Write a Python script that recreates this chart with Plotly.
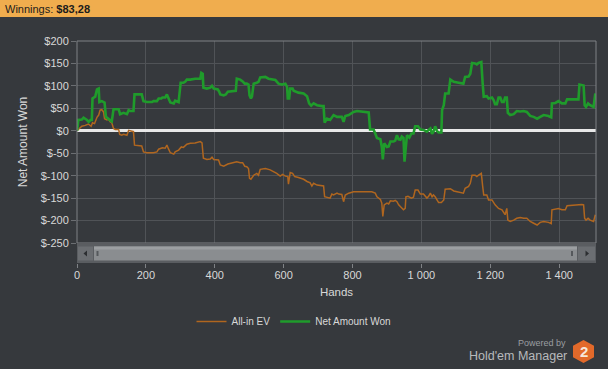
import plotly.graph_objects as go

# ---------------- data ----------------
won_hands = [0, 4, 14, 19, 29, 34, 39, 43, 45, 53, 58, 63, 65, 72, 80, 84, 92, 101, 106, 121, 125, 135, 145, 150, 155, 164,
             167, 174, 188, 193, 203, 218, 222, 232, 237, 245, 248, 256, 261, 266, 271, 281, 285, 295, 301, 309, 314, 319,
             329, 343, 358, 361, 365, 367, 377, 387, 392, 397, 409, 413, 416, 426, 432, 438, 450, 461, 464, 474, 481, 487,
             493, 498, 501, 505, 508, 513, 522, 527, 532, 547, 556, 566, 576, 585, 595, 605, 610, 612, 616, 619, 626, 629,
             643, 658, 663, 668, 674, 680, 687, 697, 711, 716, 719, 726, 735, 745, 755, 760, 769, 774, 779, 789, 803, 813,
             827, 847, 851, 861, 866, 871, 881, 885, 888, 892, 900, 905, 910, 919, 924, 929, 934, 939, 943, 948, 951, 958,
             965, 971, 977, 982, 990, 997, 1006, 1016, 1021, 1026, 1031, 1035, 1040, 1045, 1050, 1058, 1060, 1065, 1069,
             1079, 1084, 1094, 1108, 1122, 1127, 1137, 1142, 1147, 1156, 1161, 1166, 1174, 1178, 1181, 1190, 1195, 1205,
             1210, 1214, 1219, 1224, 1229, 1234, 1239, 1243, 1248, 1251, 1258, 1268, 1277, 1287, 1297, 1306, 1316, 1326,
             1336, 1345, 1355, 1369, 1377, 1379, 1389, 1398, 1408, 1418, 1423, 1437, 1456, 1459, 1471, 1474, 1478, 1484,
             1490, 1500, 1505]
won_values = [0, 24, 25, 29, 24, 20, 24, 24, 72, 76, 92, 94, 64, 66, 63, 31, 26, 21, 48, 48, 37, 40, 37, 46, 44, 44,
              81, 81, 81, 66, 64, 64, 66, 66, 72, 72, 74, 74, 81, 72, 63, 61, 67, 64, 107, 107, 109, 114,
              114, 116, 116, 129, 127, 96, 94, 96, 100, 94, 92, 87, 81, 79, 81, 87, 88, 89, 116, 114, 110, 105,
              105, 103, 79, 72, 76, 105, 107, 109, 119, 120, 116, 114, 113, 105, 103, 105, 98, 72, 72, 94, 94, 89,
              85, 83, 80, 77, 61, 56, 61, 57, 55, 55, 18, 27, 24, 35, 31, 31, 31, 20, 33, 35, 42, 44,
              43, 41, 3, 3, -6, -16, -19, -36, -64, -28, -36, -35, -24, -24, -22, -10, -19, -20, -13, -16, -69, -10,
              -15, -6, -6, 10, 10, 3, 2, -2, 2, 5, -7, -2, 10, 0, -4, -4, 46, 57, 83,
              83, 114, 109, 107, 105, 120, 121, 127, 151, 150, 148, 151, 153, 105, 76, 77, 72, 74,
              68, 59, 59, 74, 74, 64, 64, 74, 74, 40, 35, 37, 44, 43, 44, 42, 33, 31,
              27, 31, 35, 33, 30, 61, 62, 66, 61, 61, 70, 70, 70, 103, 101, 57, 53, 61,
              57, 53, 83.28]

ev_hands = [0, 4, 14, 24, 33, 41, 45, 51, 55, 58, 63, 67, 72, 77, 80, 87, 92, 96, 101, 106, 111, 121, 124, 130, 135, 145,
            150, 160, 164, 167, 179, 188, 193, 203, 222, 232, 237, 245, 248, 256, 261, 266, 271, 281, 285, 295, 303, 309,
            319, 329, 343, 358, 363, 367, 377, 387, 392, 397, 411, 416, 426, 438, 450, 464, 474, 481, 487, 493, 498, 501,
            505, 513, 522, 527, 532, 547, 561, 571, 580, 590, 597, 605, 612, 614, 619, 626, 632, 643, 658, 668, 677, 682,
            687, 697, 711, 716, 719, 726, 735, 740, 745, 755, 760, 769, 774, 779, 789, 803, 813, 827, 847, 856, 866, 871,
            881, 885, 888, 892, 900, 905, 910, 919, 924, 929, 934, 939, 943, 948, 953, 955, 961, 971, 977, 982, 990, 997,
            1006, 1016, 1021, 1026, 1031, 1035, 1040, 1045, 1050, 1058, 1065, 1069, 1079, 1084, 1094, 1108, 1122, 1127,
            1137, 1142, 1147, 1156, 1161, 1166, 1174, 1178, 1181, 1190, 1195, 1205, 1210, 1214, 1224, 1234, 1243, 1248,
            1251, 1258, 1268, 1277, 1287, 1297, 1306, 1316, 1326, 1336, 1345, 1355, 1369, 1377, 1379, 1389, 1398, 1408,
            1418, 1423, 1437, 1456, 1466, 1471, 1474, 1478, 1484, 1490, 1500, 1505]
ev_values = [0, 3, 10, 12, 15, 10, 18, 16, 24, 30, 35, 46, 47, 42, 27, 24, 26, 20, 18, 5, 3, 3, -8, -10, -8, -10,
             1, 0, -2, -32, -34, -34, -47, -49, -49, -47, -41, -39, -38, -39, -32, -41, -49, -52, -47, -43, -36, -37,
             -30, -28, -27, -24, -27, -61, -64, -63, -59, -64, -65, -76, -79, -74, -71, -69, -71, -71, -79, -80, -84, -106,
             -108, -99, -95, -99, -86, -84, -87, -91, -95, -101, -97, -101, -102, -119, -93, -95, -102, -104, -108, -113, -116, -123,
             -117, -121, -123, -123, -147, -148, -150, -141, -143, -139, -141, -142, -158, -143, -139, -136, -136, -136, -137, -136, -139, -147,
             -153, -161, -191, -165, -161, -163, -156, -157, -155, -158, -165, -169, -173, -176, -173, -147, -146, -150, -148, -132, -132, -141,
             -141, -150, -146, -139, -147, -143, -147, -154, -160, -160, -154, -130, -130, -129, -134, -136, -139, -128,
             -124, -117, -99, -99, -102, -99, -95, -124, -143, -143, -154, -154, -161, -165, -173, -176, -187, -173,
             -199, -202, -199, -195, -193, -195, -195, -202, -206, -210, -204, -202, -204, -207, -176, -174, -173, -176,
             -176, -167, -166, -164, -164, -165, -195, -199, -195, -199, -202, -187]

x_tick_vals = [0, 200, 400, 600, 800, 1000, 1200, 1400]
x_tick_labels = ["0", "200", "400", "600", "800", "1 000", "1 200", "1 400"]
y_tick_vals = [200, 150, 100, 50, 0, -50, -100, -150, -200, -250]
y_tick_labels = ["$200", "$150", "$100", "$50", "$0", "$-50", "$-100", "$-150", "$-200", "$-250"]
series_names = ["All-in EV", "Net Amount Won"]
winnings_text = "$83,28"

# ---------------- layout helpers (pixel -> paper) ----------------
W, H = 608, 369
L, R, T, B = 77, 12, 41, 106
PW, PH = W - L - R, H - T - B


def px(x):
    return (x - L) / PW


def py(y):
    return (H - B - y) / PH


BG = "#36393d"
GRID = "#505357"
TXT = "#d8d8d8"
FONT = "Liberation Sans"

fig = go.Figure()
fig.add_trace(go.Scatter(x=ev_hands, y=ev_values, mode="lines", name=series_names[0],
                         line=dict(color="#b0661f", width=1.5), xaxis="x", yaxis="y"))
fig.add_trace(go.Scatter(x=won_hands, y=won_values, mode="lines", name=series_names[1],
                         line=dict(color="#1f9b2b", width=2.6), xaxis="x", yaxis="y"))
# invisible helper trace to carry the lower tick axis
fig.add_trace(go.Scatter(x=[x_tick_vals[0]], y=[None], mode="markers", showlegend=False,
                         hoverinfo="skip", xaxis="x2", yaxis="y"))

xr = [0, 1507]
shapes = []
# plot frame
shapes.append(dict(type="rect", xref="paper", yref="paper", x0=0, x1=1, y0=py(243), y1=1,
                   line=dict(color="#7f8286", width=1), fillcolor="rgba(0,0,0,0)", layer="above"))
# header bar
shapes.append(dict(type="rect", xref="paper", yref="paper", x0=px(0), x1=px(W), y0=py(17), y1=py(0),
                   line=dict(width=0), fillcolor="#f0ad4e", layer="above"))
# scrollbar
shapes.append(dict(type="rect", xref="paper", yref="paper", x0=px(77), x1=px(596), y0=py(263), y1=py(243.5),
                   line=dict(width=0), fillcolor="#5a5d61", layer="above"))
shapes.append(dict(type="rect", xref="paper", yref="paper", x0=px(94), x1=px(577), y0=py(260.5), y1=py(246.5),
                   line=dict(width=0), fillcolor="#8a8d90", layer="above"))
shapes.append(dict(type="rect", xref="paper", yref="paper", x0=px(94), x1=px(577), y0=py(249.5), y1=py(246.5),
                   line=dict(width=0), fillcolor="#9c9fa2", layer="above"))
shapes.append(dict(type="rect", xref="paper", yref="paper", x0=px(78), x1=px(93), y0=py(260.5), y1=py(246.5),
                   line=dict(width=0), fillcolor="#6b6e72", layer="above"))
shapes.append(dict(type="rect", xref="paper", yref="paper", x0=px(578), x1=px(595), y0=py(260.5), y1=py(246.5),
                   line=dict(width=0), fillcolor="#6b6e72", layer="above"))
shapes.append(dict(type="rect", xref="paper", yref="paper", x0=px(96.5), x1=px(98.5), y0=py(256), y1=py(251),
                   line=dict(width=0), fillcolor="#55585c", layer="above"))
shapes.append(dict(type="rect", xref="paper", yref="paper", x0=px(571), x1=px(573), y0=py(256), y1=py(251),
                   line=dict(width=0), fillcolor="#55585c", layer="above"))
# arrows
shapes.append(dict(type="path", xref="paper", yref="paper",
                   path=f"M{px(83.5)},{py(253.5)} L{px(87)},{py(250.5)} L{px(87)},{py(256.5)} Z",
                   line=dict(width=0), fillcolor="#2c2e31", layer="above"))
shapes.append(dict(type="path", xref="paper", yref="paper",
                   path=f"M{px(589)},{py(253.5)} L{px(585.5)},{py(250.5)} L{px(585.5)},{py(256.5)} Z",
                   line=dict(width=0), fillcolor="#2c2e31", layer="above"))
# logo hexagon
cx, cy, rx, ry = 583.5, 351.5, 10.5, 11.5
hexpts = [(cx, cy - ry), (cx + rx, cy - ry / 2), (cx + rx, cy + ry / 2), (cx, cy + ry),
          (cx - rx, cy + ry / 2), (cx - rx, cy - ry / 2)]
hexpath = "M" + " L".join(f"{px(a)},{py(b)}" for a, b in hexpts) + " Z"
shapes.append(dict(type="path", xref="paper", yref="paper", path=hexpath,
                   line=dict(width=0), fillcolor="#e2692a", layer="above"))

annotations = [
    dict(text=f"Winnings: <b>{winnings_text}</b>", xref="paper", yref="paper", x=px(3), y=py(8.5),
         xanchor="left", yanchor="middle", showarrow=False, font=dict(family=FONT, size=11, color="#1c1c1c")),
    dict(text="Powered by", xref="paper", yref="paper", x=px(568), y=py(342.5), xanchor="right", yanchor="middle",
         showarrow=False, font=dict(family=FONT, size=9, color="#9a9da0")),
    dict(text="Hold'em Manager", xref="paper", yref="paper", x=px(569), y=py(356), xanchor="right", yanchor="middle",
         showarrow=False, font=dict(family=FONT, size=12.5, color="#b8babc")),
    dict(text="<b>2</b>", xref="paper", yref="paper", x=px(cx), y=py(cy), xanchor="center", yanchor="middle",
         showarrow=False, font=dict(family=FONT, size=15, color="#f6e7da")),
]

fig.update_layout(
    width=W, height=H,
    margin=dict(l=L, r=R, t=T, b=B, pad=0, autoexpand=False),
    paper_bgcolor=BG, plot_bgcolor=BG,
    font=dict(family=FONT, size=11, color=TXT),
    showlegend=True,
    legend=dict(orientation="h", x=px(294), xanchor="center", y=py(307), yanchor="top",
                bgcolor="rgba(0,0,0,0)", font=dict(family=FONT, size=10, color=TXT),
                itemwidth=30, tracegroupgap=0),
    xaxis=dict(domain=[0, 1], anchor="y", range=xr, tickvals=x_tick_vals, showticklabels=False,
               ticks="", showgrid=True, gridcolor=GRID, gridwidth=1, zeroline=False, showline=False,
               fixedrange=True, automargin=False),
    xaxis2=dict(domain=[0, 1], overlaying="x", anchor="free", position=0, side="bottom", range=xr,
                tickvals=x_tick_vals, ticktext=x_tick_labels, ticks="outside", ticklen=4, tickcolor="#7f8286",
                showgrid=False, zeroline=False, showline=False, automargin=False, ticklabelstandoff=-2,
                tickfont=dict(family=FONT, size=11, color=TXT),
                title=dict(text="Hands", standoff=7, font=dict(family=FONT, size=11.5, color=TXT))),
    yaxis=dict(domain=[py(243), 1], range=[-250, 200], tickvals=y_tick_vals, ticktext=y_tick_labels,
               ticks="outside", ticklen=5, tickcolor="#6b6e72", showgrid=True, gridcolor=GRID, gridwidth=1,
               zeroline=True, zerolinecolor="#e8e8e8", zerolinewidth=3, showline=False, automargin=False,
               tickfont=dict(family=FONT, size=11, color=TXT),
               title=dict(text="Net Amount Won", standoff=10, font=dict(family=FONT, size=12, color=TXT))),
    shapes=shapes,
    annotations=annotations,
)

fig.write_html("out.html", config={"displayModeBar": False},
               post_script="document.body.style.margin='0px';document.body.style.overflow='hidden';")
